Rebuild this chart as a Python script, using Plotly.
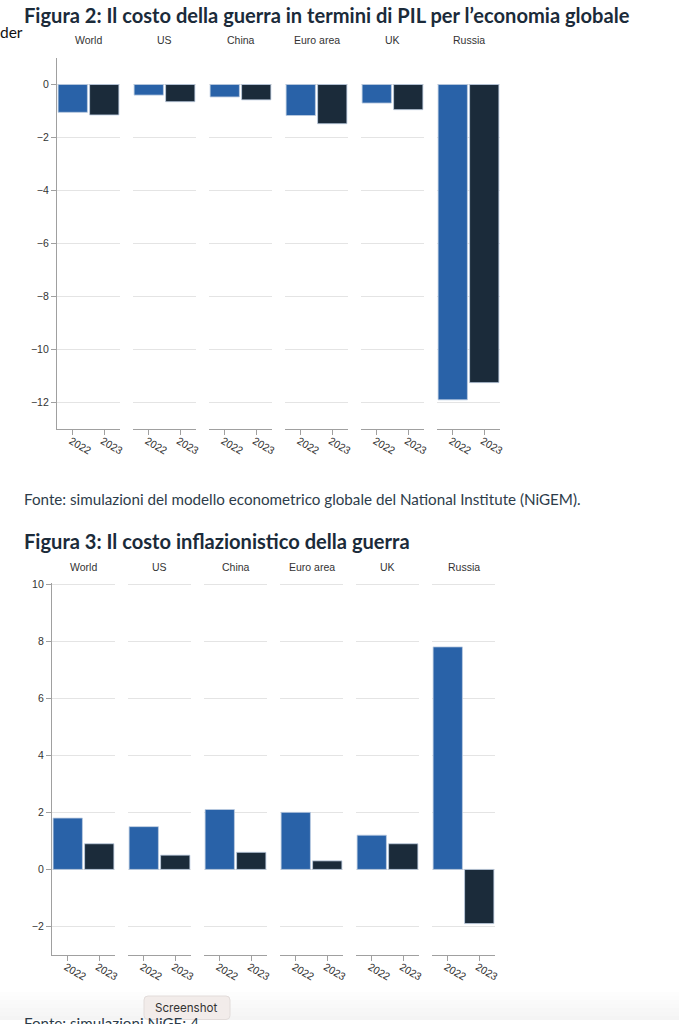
import plotly.graph_objects as go

W, H = 679, 1024
regions = ["World", "US", "China", "Euro area", "UK", "Russia"]
years = ["2022", "2023"]
gdp_2022 = [-1.05, -0.40, -0.47, -1.17, -0.70, -11.9]
gdp_2023 = [-1.15, -0.65, -0.58, -1.48, -0.95, -11.25]
infl_2022 = [1.8, 1.5, 2.1, 2.0, 1.2, 7.8]
infl_2023 = [0.9, 0.5, 0.6, 0.3, 0.9, -1.9]
gdp_ticks = [0, -2, -4, -6, -8, -10, -12]
infl_ticks = [10, 8, 6, 4, 2, 0, -2]
title_2 = "Figura 2: Il costo della guerra in termini di PIL per l’economia globale"
title_3 = "Figura 3: Il costo inflazionistico della guerra"
source_2 = "Fonte: simulazioni del modello econometrico globale del National Institute (NiGEM)."
source_3 = "Fonte: simulazioni NiGE; 4"
BLUE, NAVY = "#2962a8", "#1b2b3a"
INK = "#1b2b3a"
LABEL = "#333333"
AXIS = "#a0a0a0"
GRID = "#e4e4e4"
SANS = "Liberation Sans, Arial, sans-serif"
HEAD = "Lato, sans-serif"

def px(x): return x / W
def py(y): return 1 - y / H

fig = go.Figure()
layout = {}
annots = []
shapes = []
axis_n = 0

def add_chart(v1, v2, ticks, x0, y_top, y_bottom, yr, title_y):
    global axis_n
    for i, region in enumerate(regions):
        axis_n += 1
        left = x0 + i * 76
        xa, ya = f"x{axis_n}", f"y{axis_n}"
        fig.add_trace(go.Bar(
            x=years, y=[v1[i], v2[i]], xaxis=xa, yaxis=ya, width=0.93,
            marker=dict(color=[BLUE, NAVY], line=dict(color="rgba(190,205,225,0.8)", width=1)),
            showlegend=False, hoverinfo="x+y"))
        layout[f"xaxis{axis_n}"] = dict(
            domain=[px(left), px(left + 63)], anchor=ya, type="category", range=[-0.5, 1.5],
            showgrid=False, zeroline=False, showline=True, linecolor=AXIS, linewidth=1.3,
            ticks="outside", ticklen=5, tickcolor=AXIS, tickangle=30,
            ticklabelshift=-2, ticklabelstandoff=-4,
            tickfont=dict(family=SANS, size=10.5, color=LABEL), automargin=False)
        layout[f"yaxis{axis_n}"] = dict(
            domain=[py(y_bottom), py(y_top)], anchor=xa, range=yr, tickvals=ticks,
            showgrid=True, gridcolor=GRID, gridwidth=1.3, zeroline=False,
            showline=i == 0, linecolor=AXIS, linewidth=1.3,
            ticks="outside" if i == 0 else "", ticklen=5, tickcolor=AXIS,
            showticklabels=i == 0, tickfont=dict(family=SANS, size=10.5, color=LABEL),
            automargin=False)
        annots.append(dict(text=region, x=px(left + 31.5), y=py(title_y), xref="paper", yref="paper",
                           showarrow=False, xanchor="center", yanchor="middle",
                           font=dict(family=SANS, size=10.5, color=LABEL)))

add_chart(gdp_2022, gdp_2023, gdp_ticks, 57, 58, 429, [-13.0, 1.0], 40)
add_chart(infl_2022, infl_2023, infl_ticks, 52, 583, 955, [-3.0, 10.04], 567)

def text(s, x, y, size, color=INK, family=HEAD, bold=False, anchor="left"):
    annots.append(dict(text=f"<b>{s}</b>" if bold else s, x=px(x), y=py(y), xref="paper", yref="paper",
                       showarrow=False, xanchor=anchor, yanchor="middle",
                       xshift=-2 if anchor == "left" else 0,
                       font=dict(family=family, size=size, color=color)))

text(title_2, 24, 15, 20.1, bold=True)
text(title_3, 24, 541, 20.1, bold=True)
text(source_2, 24, 499, 15.2, color="#2d3c4a")
text(source_3, 24, 1023, 15.2, color="#2d3c4a")
text("der", 0, 32, 15.5, color="#111111")

def rect(x0, y0, x1, y1, **kw):
    shapes.append(dict(type="rect", xref="paper", yref="paper", x0=px(x0), x1=px(x1),
                       y0=py(y0), y1=py(y1), layer="above", **kw))

# fading bottom strip of the page, then the rounded button above it
for k, y in enumerate(range(992, 1018, 4)):
    rect(0, y, W, y + 4, fillcolor=f"rgba(240,240,240,{0.12 + k * 0.1:.2f})", line_width=0)

def rounded(x0, y0, x1, y1, r):
    X, Y = px, py
    return (f"M{X(x0 + r)},{Y(y0)} L{X(x1 - r)},{Y(y0)} Q{X(x1)},{Y(y0)} {X(x1)},{Y(y0 + r)} "
            f"L{X(x1)},{Y(y1 - r)} Q{X(x1)},{Y(y1)} {X(x1 - r)},{Y(y1)} "
            f"L{X(x0 + r)},{Y(y1)} Q{X(x0)},{Y(y1)} {X(x0)},{Y(y1 - r)} "
            f"L{X(x0)},{Y(y0 + r)} Q{X(x0)},{Y(y0)} {X(x0 + r)},{Y(y0)} Z")

shapes.append(dict(type="path", xref="paper", yref="paper", path=rounded(144, 996, 230, 1019.5, 4),
                   fillcolor="#f2ecea", line=dict(color="#e2dcda", width=1), layer="above"))
text("Screenshot", 186, 1008, 11.6, color="#333333", family="Inter, sans-serif", anchor="center")

fig.update_layout(width=W, height=H, margin=dict(l=0, r=0, t=0, b=0), paper_bgcolor="white",
                  plot_bgcolor="white", annotations=annots, shapes=shapes, bargap=0.07, **layout)
fig.write_html("out.html", config={"displayModeBar": False},
               post_script="document.body.style.margin='0';document.body.style.overflow='hidden';")
